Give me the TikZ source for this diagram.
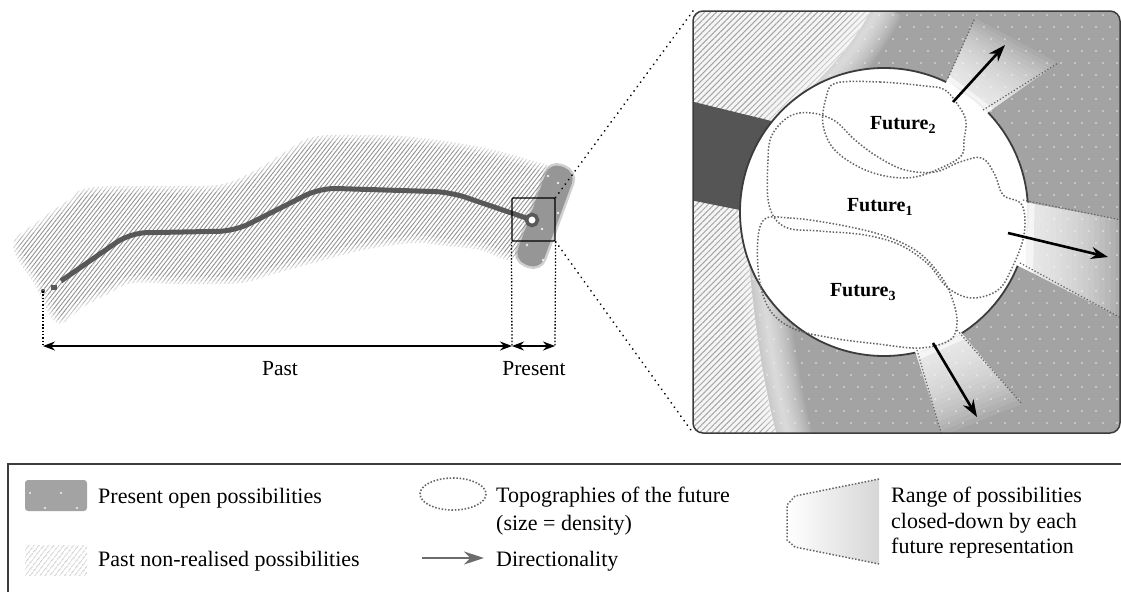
\documentclass[tikz,border=0pt]{standalone}
\usepackage{fontspec}
\setmainfont{Liberation Serif}
\usetikzlibrary{patterns.meta,arrows.meta,calc}
\definecolor{bggray}{RGB}{163,163,163}
\definecolor{darkband}{RGB}{85,85,85}
\definecolor{pathgray}{RGB}{88,88,88}
\definecolor{hatchgray}{RGB}{145,145,145}
\definecolor{hatchpgray}{RGB}{165,165,165}
\definecolor{hatchlight}{RGB}{185,185,185}
\definecolor{blobgray}{RGB}{150,150,150}
\definecolor{topogray}{RGB}{100,100,100}
\definecolor{bordergray}{RGB}{60,60,60}
\tikzset{
  lbl/.style={font=\fontsize{21.5}{26}\selectfont, inner sep=0},
  legtext/.style={font=\fontsize{22}{26}\selectfont, inner sep=0, anchor=base west, align=left},
  futlbl/.style={font=\fontsize{20}{24}\selectfont\bfseries, inner sep=0},
  vdot/.style={black, line width=1.3, dash pattern=on 1.5 off 1.8},
  zoomdot/.style={black, line width=2, dash pattern=on 0.01 off 5.5, line cap=round},
  dimarrow/.style={black, line width=1.3, {Stealth[length=12,width=9]}-{Stealth[length=12,width=9]}},
  topo/.style={topogray, line width=1.5, dash pattern=on 1.5 off 1.8},
  beamedge/.style={topogray, line width=1.2, dash pattern=on 1.3 off 2},
  fut arrow/.style={black, line width=2.6, -{Stealth[length=17,width=12]}},
  hatchmain/.style={pattern={Lines[angle=52,distance=3.3pt,line width=0.9pt]}, pattern color=hatchgray},
  hatchpanel/.style={pattern={Lines[angle=45,distance=4.2pt,line width=1pt]}, pattern color=hatchpgray},
}
\newcommand\drawbeam[4]{%
  \foreach \t in {0.2,0.25,0.3,0.35,0.4,0.45,0.5,0.55,0.6,0.65,0.7,0.75,0.8,0.85,0.9,0.95,1.0} {
    \fill[white, opacity=0.09] (#1) -- ($(#1)!\t!(#2)$) -- ($(#4)!\t!(#3)$) -- (#4) -- cycle;
  }
  \fill[white, opacity=0.6] (#1) -- ($(#1)!0.2!(#2)$) -- ($(#4)!0.2!(#3)$) -- (#4) -- cycle;
  \fill[white] (#1) -- ($(#1)!0.13!(#2)$) -- ($(#4)!0.13!(#3)$) -- (#4) -- cycle;
}
\begin{document}
\begin{tikzpicture}[x=1pt,y=-1pt]
\useasboundingbox (0,0) rectangle (1121,592);

% ---------- past band (hatched) ----------
\def\bandpath{plot[smooth cycle, tension=0.6] coordinates {(13,245) (40,220) (67,201) (88,188) (150,186) (217,185) (252,172) (285,152) (313,137) (360,135) (413,137) (480,147) (530,160) (552,170) (545,200) (530,235) (513,260) (480,250) (447,246) (413,243) (363,250) (313,263) (270,275) (240,283) (180,284) (133,283) (110,293) (83,307) (57,323) (35,285)}}
\fill[hatchmain] \bandpath;
\draw[white, line width=14, opacity=0.3] \bandpath;
\draw[white, line width=6, opacity=0.45] \bandpath;

% ---------- present blob ----------
\def\blobpath{(576,172) -- (550,162) -- (514,260) -- (540,270) -- cycle}
\draw[blobgray, line width=5, opacity=0.45, rounded corners=12] \blobpath;
\fill[blobgray, rounded corners=12] \blobpath;
\foreach \p in {(558,183),(558,213),(542,229),(527,245),(543,260),(548,176)}
  \fill[white, opacity=0.8] \p circle (1.3);

% ---------- trajectory ----------
\coordinate (start) at (43,291);
\coordinate (ring) at (532,220);
\fill[pathgray] (start) circle (2.2);
\fill[pathgray] (51,285) rectangle (57,290);
\draw[pathgray, line width=5, rounded corners=16] (61,281) -- (130,233) -- (235,231) -- (320,188) -- (450,192) -- (ring);
\draw[pathgray, line width=3.5, fill=white] (ring) circle (5.5);
\node[draw=black, line width=1.2, rounded corners=1, minimum width=43, minimum height=43, inner sep=0] (box) at (533.5,219.5) {};

% ---------- dimension lines ----------
\coordinate (pastL) at (43,346);
\coordinate (pastR) at (512,346);
\coordinate (presR) at (555,346);
\draw[vdot] (start) -- (pastL);
\draw[vdot] (box.south west) -- (pastR);
\draw[vdot] (box.south east) -- (presR);
\draw[dimarrow] (pastL) -- (pastR);
\draw[dimarrow] (pastR) -- (presR);
\node[lbl, anchor=base] (past) at (280,375) {Past};
\node[lbl, anchor=base] (present) at (534,375) {Present};

% ---------- zoom panel ----------
\coordinate (pnw) at (693,11);
\coordinate (psw) at (693,433);
\begin{scope}
\clip[rounded corners=10] (693,11) rectangle (1120,433);
\fill[bggray] (693,11) rectangle (1120,433);
% dots
\foreach \j in {0,...,35} {
  \foreach \i in {0,...,31} {
    \fill[white, opacity=0.75] ({697+\i*14+mod(\j,2)*7},{15+\j*12}) circle (0.9);
  }
}
% hatched past regions
\def\upperhatch{(690,8) -- (872,8) .. controls (848,55) and (806,95) .. (766,126) -- (690,126) -- cycle}
\def\lowerhatch{(690,188) -- (745,205) .. controls (750,300) and (762,380) .. (777,436) -- (690,436) -- cycle}
\fill[white!92!gray] \upperhatch;
\fill[hatchpanel] \upperhatch;
\fill[white!92!gray] \lowerhatch;
\fill[hatchpanel] \lowerhatch;
% soft glow along band edges
\foreach \w in {4,8,...,48} {
  \draw[white, line width=\w, opacity=0.08] (880,5) .. controls (856,55) and (814,95) .. (774,128);
  \draw[white, line width=\w, opacity=0.08] (757,205) .. controls (762,300) and (774,380) .. (789,440);
}
% dark trajectory band
\fill[darkband] (690,101) -- (800,128) -- (780,218) -- (690,200) -- cycle;
% circle
\draw[bordergray, line width=1.8, fill=white] (884,212) circle (144);
% beams
\coordinate (b1a) at (943,90); \coordinate (b1o) at (975,18); \coordinate (b1p) at (1058,63); \coordinate (b1b) at (977,120);
\coordinate (b2a) at (1013,200); \coordinate (b2o) at (1121,220); \coordinate (b2p) at (1121,318); \coordinate (b2b) at (1011,262);
\coordinate (b3a) at (912,341); \coordinate (b3o) at (942,436); \coordinate (b3p) at (1022,404); \coordinate (b3b) at (952,322);
\drawbeam{b1a}{b1o}{b1p}{b1b}
\drawbeam{b2a}{b2o}{b2p}{b2b}
\drawbeam{b3a}{b3o}{b3p}{b3b}
% beam edges
\draw[beamedge] (948,78) -- (b1o);
\draw[beamedge] (983,110) -- (b1p);
\draw[beamedge] (1023,200) -- (b2o);
\draw[beamedge] (1020,263) -- (b2p);
\draw[beamedge] (917,350) -- (b3o);
\draw[beamedge] (957,330) -- (b3p);
% future topographies
\draw[topo] plot[smooth cycle, tension=0.6] coordinates {(768,160) (772,135) (790,116) (812,113) (835,121) (855,140) (878,157) (905,170) (935,172) (960,162) (982,158) (995,175) (1003,195) (1022,205) (1024,235) (1012,268) (998,290) (972,298) (948,288) (928,264) (900,245) (865,235) (820,231) (785,227) (769,205)};
\draw[topo] plot[smooth cycle, tension=0.6] coordinates {(836,83) (880,82) (925,86) (945,90) (960,108) (966,122) (964,140) (962,155) (945,166) (915,177) (885,176) (857,166) (833,148) (823,124) (826,98)};
\draw[topo] plot[smooth cycle, tension=0.6] coordinates {(762,222) (790,218) (840,225) (885,236) (918,252) (940,275) (952,298) (957,322) (950,340) (920,348) (878,344) (832,338) (792,328) (768,307) (758,268)};
\node[futlbl] (f2) at (903,125) {Future\textsubscript{2}};
\node[futlbl] (f1) at (880,207) {Future\textsubscript{1}};
\node[futlbl] (f3) at (863,292) {Future\textsubscript{3}};
% directionality arrows
\coordinate (a1s) at (953,102); \coordinate (a1e) at (1005,45);
\coordinate (a2s) at (1008,233); \coordinate (a2e) at (1108,257);
\coordinate (a3s) at (933,343); \coordinate (a3e) at (977,417);
\draw[fut arrow] (a1s) -- (a1e);
\draw[fut arrow] (a2s) -- (a2e);
\draw[fut arrow] (a3s) -- (a3e);
\end{scope}
\draw[bordergray, line width=1.5, rounded corners=10] (693,11) rectangle (1120,433);

% zoom lines
\draw[zoomdot] (box.north east) -- (pnw);
\draw[zoomdot] (box.south east) -- (psw);

% ---------- legend ----------
\draw[bordergray, line width=1.8] (1121,464) -- (8,464) -- (8,592);
\fill[bggray, rounded corners=3] (25,480) rectangle (87,511);
\foreach \p in {(30,493),(61,493),(45,508),(77,508)}
  \fill[white, opacity=0.85] \p circle (1.2);
\fill[pattern={Lines[angle=52,distance=4pt,line width=1pt]}, pattern color=hatchlight] (25,545) rectangle (87,575);
\node[legtext] (l1) at (98,503) {Present open possibilities};
\node[legtext] (l2) at (98,566) {Past non-realised possibilities};

\draw[topo, line width=1.6] (453,494) ellipse [x radius=33, y radius=16];
\node[legtext] (l3) at (496,502) {Topographies of the future};
\node[legtext] (l3b) at (496,530) {(size = density)};
\coordinate (la1) at (422,558); \coordinate (la2) at (484,558);
\draw[gray!85!black, line width=2.4, -{Stealth[length=20,width=13]}] (la1) -- (la2);
\node[legtext] (l4) at (496,566) {Directionality};

\shade[left color=white, right color=black!16] (879,479) -- (795,496) -- (787,505) -- (787,540) -- (795,547) -- (879,564) -- cycle;
\draw[topo] (879,479) -- (795,496) -- (787,505) -- (787,540) -- (795,547) -- (879,564);
\node[legtext] (l5) at (891,502) {Range of possibilities};
\node[legtext] (l5b) at (891,528) {closed-down by each};
\node[legtext] (l5c) at (891,553) {future representation};
\end{tikzpicture}
\end{document}
